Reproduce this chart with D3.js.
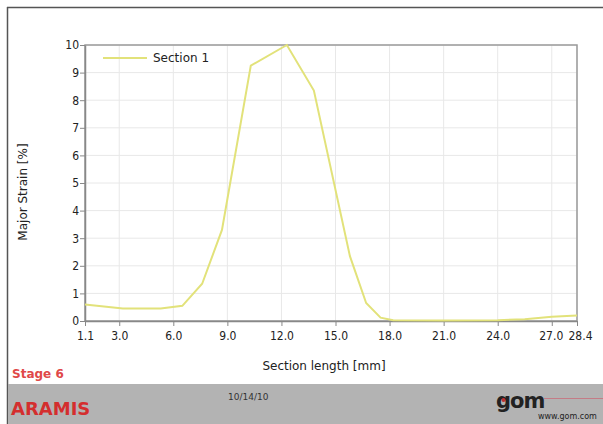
<!DOCTYPE html>
<html>
<head>
<meta charset="utf-8">
<script src="https://cdn.jsdelivr.net/npm/d3@7"></script>
<style>
  body { margin: 0; background: #fff; }
  text { font-family: "DejaVu Sans", sans-serif; }
</style>
</head>
<body>
<svg id="chart" width="603" height="424"></svg>
<script>
// section data
var sectionLength = [1.1, 3.2, 5.3, 6.5, 7.6, 8.7, 10.3, 12.3, 13.8, 15.8, 16.7, 17.5, 18.2, 21.0, 24.0, 25.5, 27.0, 28.4];
var majorStrain  = [0.6, 0.45, 0.45, 0.55, 1.35, 3.3, 9.25, 10.05, 8.35, 2.35, 0.65, 0.12, 0.03, 0.02, 0.03, 0.06, 0.15, 0.2];
var xTicks = [1.1, 3.0, 6.0, 9.0, 12.0, 15.0, 18.0, 21.0, 24.0, 27.0, 28.4];
var yTicks = [0, 1, 2, 3, 4, 5, 6, 7, 8, 9, 10];
var seriesName = 'Section 1';

var svg = d3.select('#chart');

var x = d3.scaleLinear().domain([1.1, 28.4]).range([85, 577]);
var y = d3.scaleLinear().domain([0, 10]).range([321, 45]);

// outer frame
svg.append('line').attr('x1', 7).attr('x2', 603).attr('y1', 7.5).attr('y2', 7.5)
	.attr('stroke', '#555').attr('stroke-width', 1.5);
svg.append('line').attr('x1', 7.5).attr('x2', 7.5).attr('y1', 7).attr('y2', 424)
	.attr('stroke', '#555').attr('stroke-width', 1.5);

// footer band
svg.append('rect').attr('x', 8).attr('y', 384).attr('width', 595).attr('height', 40).attr('fill', '#b3b3b3');

// grid
svg.append('g').selectAll('line').data(xTicks).enter().append('line')
	.attr('x1', function(d) { return x(d); }).attr('x2', function(d) { return x(d); })
	.attr('y1', y(0)).attr('y2', y(10))
	.attr('stroke', '#e8e8e8');
svg.append('g').selectAll('line').data(yTicks).enter().append('line')
	.attr('x1', x(1.1)).attr('x2', x(28.4))
	.attr('y1', function(d) { return y(d); }).attr('y2', function(d) { return y(d); })
	.attr('stroke', '#e8e8e8');

// plot box
svg.append('rect').attr('x', x(1.1)).attr('y', y(10)).attr('width', x(28.4) - x(1.1)).attr('height', y(0) - y(10))
	.attr('fill', 'none').attr('stroke', '#9a9a9a').attr('stroke-width', 1.5);

// axes
var xAxis = svg.append('g').attr('transform', 'translate(0,' + y(0) + ')')
	.call(d3.axisBottom(x).tickValues(xTicks).tickSize(5).tickSizeOuter(0).tickFormat(d3.format('.1f')));
var yAxis = svg.append('g').attr('transform', 'translate(' + x(1.1) + ',0)')
	.call(d3.axisLeft(y).tickValues(yTicks).tickSize(5).tickSizeOuter(0).tickFormat(d3.format('d')));

[xAxis, yAxis].forEach(function(a) {
	a.select('.domain').attr('stroke', '#888').attr('stroke-width', 1.5);
	a.selectAll('.tick line').attr('stroke', '#888');
	a.selectAll('.tick text').attr('fill', '#222').style('font-size', '12px')
		.style('font-family', '"DejaVu Sans Condensed", "DejaVu Sans", sans-serif');
});
xAxis.selectAll('.tick text').attr('dy', '0.95em');
yAxis.selectAll('.tick text').attr('x', -6);
// last two labels run together in the original
xAxis.selectAll('.tick text').filter(function(d) { return d === 27.0; }).attr('dx', -1);
xAxis.selectAll('.tick text').filter(function(d) { return d === 28.4; }).attr('dx', 3);

// the curve
var pts = sectionLength.map(function(d, i) { return [d, majorStrain[i]]; });
svg.append('path').datum(pts)
	.attr('fill', 'none').attr('stroke', '#e2e27a').attr('stroke-width', 2)
	.attr('d', d3.line().x(function(d) { return x(d[0]); }).y(function(d) { return y(Math.min(d[1], 10)); }));

// legend
svg.append('line').attr('x1', 103).attr('x2', 147).attr('y1', 58).attr('y2', 58)
	.attr('stroke', '#e2e27a').attr('stroke-width', 2);
svg.append('text').attr('x', 153).attr('y', 62).text(seriesName)
	.style('font-size', '12px').attr('fill', '#222');

// axis titles
svg.append('text').attr('x', 324).attr('y', 370).attr('text-anchor', 'middle')
	.style('font-size', '12px').attr('fill', '#222').text('Section length [mm]');
svg.append('text').attr('transform', 'translate(27,192) rotate(-90)').attr('text-anchor', 'middle')
	.style('font-size', '12px').attr('fill', '#222').text('Major Strain [%]');

// page texts
svg.append('text').attr('x', 12).attr('y', 378).style('font-size', '12px').style('font-weight', 'bold')
	.attr('fill', '#e04848').text('Stage 6');
svg.append('text').attr('x', 11).attr('y', 415).style('font-size', '18px').style('font-weight', 'bold')
	.attr('fill', '#d42e2e').text('ARAMIS');
svg.append('text').attr('x', 228).attr('y', 400).style('font-size', '9px')
	.attr('fill', '#333').text('10/14/10');

// gom logo
svg.append('line').attr('x1', 544).attr('x2', 603).attr('y1', 398.5).attr('y2', 398.5)
	.attr('stroke', '#c47c86').attr('stroke-width', 1);
svg.append('text').attr('x', 496).attr('y', 408).style('font-size', '21px').style('font-weight', 'bold')
	.style('letter-spacing', '-1px').attr('fill', '#222').text('gom');
svg.append('circle').attr('cx', 503.5).attr('cy', 400).attr('r', 2).attr('fill', '#c03030');
svg.append('text').attr('x', 538).attr('y', 419).style('font-size', '8px')
	.attr('fill', '#222').text('www.gom.com');
</script>
</body>
</html>
